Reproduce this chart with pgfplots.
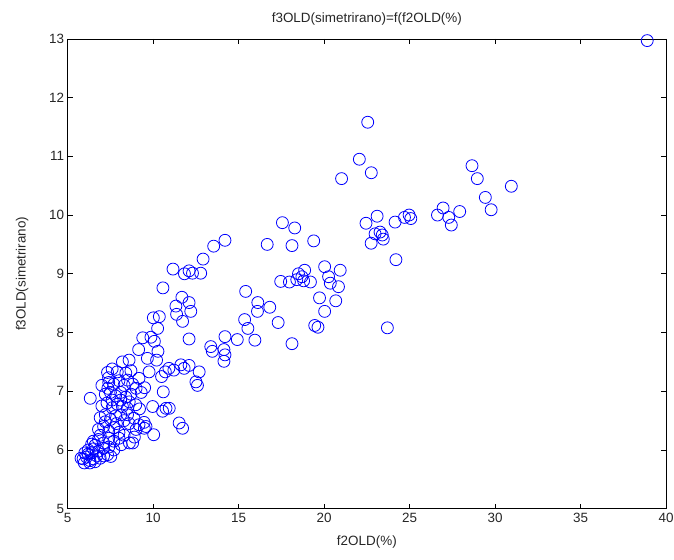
\documentclass[border=0pt]{standalone}
\usepackage{fontspec}
\setmainfont{Liberation Sans}
\usepackage{pgfplots}
\pgfplotsset{compat=1.18}
\begin{document}
\begin{tikzpicture}
\begin{axis}[
  at={(0,0)}, anchor=south west,
  scale only axis, width=601pt, height=472pt,
  xmin=5, xmax=40, ymin=5, ymax=13,
  xtick={5,10,...,40}, ytick={5,6,...,13},
  tick align=inside, major tick length=5pt,
  xtick pos=both, ytick pos=both,
  axis line style={black, line width=0.6pt},
  tick style={black, line width=0.6pt},
  /pgf/number format/assume math mode=true,
  tick label style={font=\fontsize{13.5}{15}\selectfont, text=black!85},
  xticklabel style={yshift=-1pt},
  label style={font=\fontsize{13.5}{15}\selectfont, text=black!85},
  title style={font=\fontsize{13.5}{15}\selectfont, text=black!85, yshift=4pt},
  xlabel style={yshift=-6pt},
  ylabel style={yshift=14pt},
  title={f3OLD(simetrirano)=f(f2OLD(\%)},
  xlabel={f2OLD(\%)}, ylabel={f3OLD(simetrirano)},
]
\addplot[only marks, mark=o, mark size=6pt, color=blue, mark options={line width=0.8pt}] table {
x y
38.9 12.97
22.55 11.58
22.06 10.95
22.76 10.72
21.02 10.62
23.1 9.98
22.45 9.86
24.15 9.88
22.98 9.68
23.27 9.71
23.46 9.59
22.75 9.52
23.4 9.66
24.2 9.24
23.7 8.08
17.56 9.87
18.28 9.78
19.39 9.56
16.67 9.50
18.12 9.48
14.2 9.57
13.54 9.47
12.92 9.25
12.78 9.01
20.03 9.12
20.94 9.06
20.26 8.95
20.36 8.84
20.84 8.78
18.5 9.0
18.86 9.06
18.7 8.95
18.4 8.9
19.2 8.86
18.8 8.88
17.46 8.87
17.97 8.86
19.73 8.59
20.68 8.54
20.03 8.36
19.45 8.12
19.64 8.09
15.41 8.70
16.12 8.51
16.82 8.43
16.1 8.36
15.35 8.22
15.54 8.07
17.31 8.17
15.95 7.87
14.92 7.88
14.2 7.93
18.12 7.81
13.37 7.76
13.46 7.68
14.14 7.71
14.2 7.62
14.14 7.51
28.65 10.84
28.96 10.62
30.95 10.49
29.43 10.30
29.77 10.09
26.96 10.12
26.63 10.0
27.93 10.06
27.29 9.96
27.44 9.83
24.7 9.96
24.97 10.0
25.07 9.94
11.16 9.08
11.83 9.0
12.1 9.05
12.3 9.01
10.57 8.76
11.68 8.60
11.33 8.45
12.1 8.51
11.37 8.31
12.2 8.36
11.72 8.19
10.01 8.25
10.36 8.27
10.26 8.07
9.39 7.91
9.87 7.92
10.07 7.85
9.15 7.71
12.1 7.89
10.28 7.68
9.66 7.56
10.2 7.53
8.2 7.50
8.59 7.53
9.76 7.33
7.33 7.32
7.39 7.23
8.4 7.31
8.5 7.19
9.17 7.22
10.49 7.25
10.92 7.39
11.21 7.36
10.59 6.99
6.32 6.88
9.5 7.06
11.62 7.45
11.81 7.39
12.1 7.44
12.69 7.33
10.71 7.33
12.5 7.16
12.59 7.10
10.75 6.71
10.94 6.71
10.55 6.66
11.52 6.46
11.72 6.37
9.97 6.74
10.03 6.26
9.48 6.37
8.61 6.12
8.13 6.09
9.17 6.43
9.47 6.47
9.58 6.40
8.8 6.12
8.1 6.6
8.88 6.54
8.49 6.71
8.98 6.77
7.33 5.92
7.52 5.89
5.78 5.86
5.97 5.78
7.6 7.38
7.9 7.33
8.7 7.35
7.4 7.15
7.7 7.12
8.0 7.18
8.3 7.1
8.8 7.12
9.0 7.05
7.2 6.95
7.5 6.98
7.8 6.92
8.1 6.98
8.4 6.9
8.7 6.95
9.3 6.98
7.0 6.75
7.3 6.8
7.6 6.72
7.9 6.78
8.2 6.74
8.6 6.82
9.2 6.7
6.9 6.55
7.2 6.6
7.5 6.52
7.8 6.58
8.3 6.5
8.6 6.45
9.0 6.35
6.8 6.35
7.1 6.4
7.4 6.32
7.7 6.38
8.0 6.3
8.3 6.25
8.9 6.22
6.5 6.15
6.8 6.18
7.1 6.12
7.4 6.2
7.7 6.15
8.0 6.2
6.2 6.0
6.5 6.02
6.8 5.98
7.1 6.03
7.4 6.05
7.7 6.0
5.9 5.85
6.1 5.88
6.3 5.82
6.5 5.85
6.7 5.9
6.9 5.86
7.1 5.9
6.2 5.93
6.4 5.95
6.0 5.95
6.6 6.08
6.9 6.25
7.2 6.48
7.0 7.1
7.6 6.85
7.35 7.05
8.1 6.85
6.4 6.1
6.3 5.78
6.6 5.8
7.85 6.45
8.5 6.6
};
\end{axis}
\pgfresetboundingbox
\path[use as bounding box] (-68pt,-51pt) rectangle (609pt,511pt);
\end{tikzpicture}
\end{document}
